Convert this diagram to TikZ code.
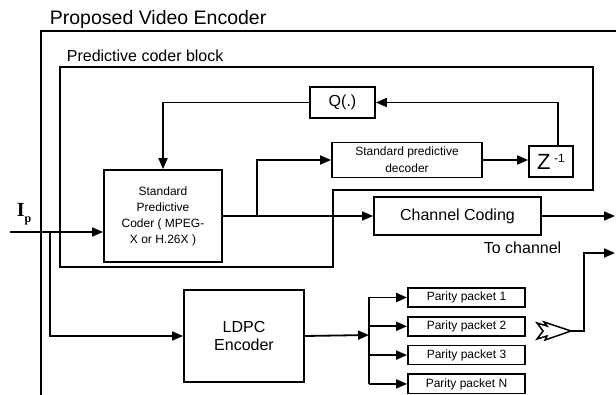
\documentclass[tikz,border=0pt]{standalone}
\usepackage{fontspec}
\setmainfont{Liberation Sans}
\newfontfamily\serifrm{Liberation Serif}
\usetikzlibrary{positioning,arrows.meta}

\begin{document}
\begin{tikzpicture}[
    x=1pt, y=-1pt,
    line width=1.8pt,
    block/.style={rectangle, draw, line width=1.8pt, align=center, inner sep=1pt},
    small/.style={font=\fontsize{12}{16}\selectfont},
    big/.style={font=\fontsize{16}{18}\selectfont},
    parity/.style={block, small, minimum width=117pt, minimum height=19pt},
    arrow/.style={-{Triangle[length=11pt,width=9pt]}}
]
\useasboundingbox (0,0) rectangle (616,395);

% frames
\draw (41,395) -- (41,31) -- (616,31);
\draw (60,67) -- (593,67) -- (593,190) -- (333,190) -- (333,267) -- (60,267) -- cycle;
\node[anchor=base west, font=\fontsize{19.5}{20}\selectfont, inner sep=0] (title) at (49,25) {Proposed Video Encoder};
\node[anchor=base west, big, inner sep=0] (blocklbl) at (66,62) {Predictive coder block};

% predictive loop
\node[block, small, minimum width=118pt, minimum height=92pt] (spc) at (163,216)
    {Standard\\Predictive\\Coder ( MPEG-\\X or H.26X )};
\node[block, big, minimum width=65pt, minimum height=31pt] (q) at (342.5,102.5) {Q(.)};
\node[block, small, minimum width=150pt, minimum height=35pt, font=\fontsize{12}{17}\selectfont] (dec) at (407,160) {Standard predictive\\decoder};
\node[block, minimum width=44pt, minimum height=31pt, font=\fontsize{22}{22}\selectfont] (z) at (551,161.5)
    {Z\,\raisebox{7pt}{\fontsize{12}{12}\selectfont -1}};
\node[block, big, minimum width=167pt, minimum height=38pt] (cc) at (457.5,216) {Channel Coding};
\node[anchor=base west, big, inner sep=0] (tochan) at (483,254) {To channel};

% LDPC branch
\node[block, big, minimum width=120pt, minimum height=92pt] (ldpc) at (244,336) {LDPC\\Encoder};
\node[parity] (p1) at (466.5,297.5) {Parity packet 1};
\node[parity, below=8pt of p1] (p2) {Parity packet 2};
\node[parity, below=8pt of p2] (p3) {Parity packet 3};
\node[parity, below=8pt of p3] (pN) {Parity packet N};

% input
\node[anchor=base west, inner sep=0, font=\serifrm\bfseries\fontsize{20}{20}\selectfont] (ip) at (16,217)
    {I\raisebox{-6pt}{\fontsize{12}{12}\selectfont p}};
\coordinate (in) at (10,232);
\coordinate (br) at (50,232);
\coordinate (sp) at (257,216);
\coordinate (fan) at (369,335);
\coordinate (out1) at (615,216);
\coordinate (out2) at (615,253);
\coordinate (tip) at (571,331);

\draw[arrow] (in) -- (in -| spc.west);
\draw[arrow] (br) |- (ldpc.west);
\draw[arrow] (spc.east) -- (cc.west);
\draw[arrow] (sp) |- (dec.west);
\draw[arrow] (dec.east) -- (dec.east -| z.west);
\draw[arrow] ([xshift=7pt]z.north) |- (q.east);
\draw[arrow] (q.west) -| (spc.north);
\draw[arrow] (cc.east) -- (out1);

\draw[arrow] (ldpc.east) -- (fan);
\draw (fan |- p1) -- (fan |- pN);
\foreach \p in {p1,p2,p3,pN}
    \draw[arrow] (fan |- \p) -- (\p.west);

% hollow arrow to channel
\draw[line width=1.5pt, line join=miter] (537,323) -- (547,326) -- (544,322) -- (tip) -- (545,340) -- (547,336) -- (537,339) -- (543,331) -- cycle;
\draw[arrow] (tip) -- (584,331) |- (out2);
\end{tikzpicture}
\end{document}
